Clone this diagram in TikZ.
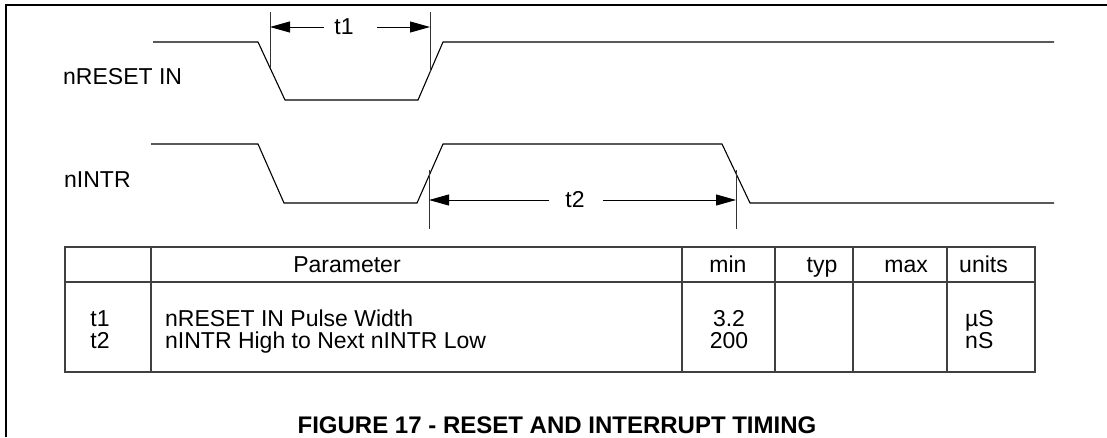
\documentclass[tikz,border=0pt]{standalone}
\usepackage{fontspec}
\setmainfont{Liberation Sans}
\usetikzlibrary{arrows.meta}
\begin{document}
\begin{tikzpicture}[x=1pt,y=-1pt,
  sig/.style={line width=1.1pt, line join=miter},
  dim/.style={line width=0.8pt, draw=black!80},
  dimarrow/.style={line width=0.9pt, -{Triangle[length=20pt,width=11pt]}},
  frame/.style={line width=2.6pt},
  tab/.style={line width=1.1pt, draw=black!75},
  lbl/.style={font=\fontsize{23pt}{25pt}\selectfont, inner sep=0pt},
  ttl/.style={font=\fontsize{24pt}{26pt}\selectfont\bfseries, inner sep=0pt}]
\useasboundingbox (0,0) rectangle (1107,437);
% frame
\draw[frame] (6,437) -- (6,5) -- (1107,5);
% waveforms
\draw[sig] (153,42) -- (258,42) -- (285,100) -- (418,100) -- (443,42) -- (1054,42);
\draw[sig] (151,144) -- (258,144) -- (284,203) -- (417,203) -- (443,144) -- (722,144) -- (750,203) -- (1054,203);
% signal labels
\node[lbl, anchor=west] (lreset) at (63,77) {nRESET IN};
\node[lbl, anchor=west] (lintr) at (64,180) {nINTR};
% t1 dimension
\draw[dim] (270,12) -- (270,68);
\draw[dim] (430,12) -- (430,72);
\coordinate (t1a) at (270,27);
\coordinate (t1b) at (430,27);
\coordinate (t1l) at (324,27);
\coordinate (t1r) at (377,27);
\node[lbl] (t1) at (344,27) {t1};
\draw[dimarrow] (t1l) -- (t1a);
\draw[dimarrow] (t1r) -- (t1b);
% t2 dimension
\draw[dim] (429,170) -- (429,229);
\draw[dim] (736,170) -- (736,229);
\coordinate (t2a) at (429,200);
\coordinate (t2b) at (736,200);
\coordinate (t2l) at (549,200);
\coordinate (t2r) at (603,200);
\node[lbl] (t2) at (575,200) {t2};
\draw[dimarrow] (t2l) -- (t2a);
\draw[dimarrow] (t2r) -- (t2b);
% table
\draw[tab] (65,247) rectangle (1035,372);
\draw[tab] (65,282) -- (1035,282);
\foreach \cx in {151,682,775,853,947} {\draw[tab] (\cx,247) -- (\cx,372);}
\node[lbl, anchor=base] (hpar) at (347,272) {Parameter};
\node[lbl, anchor=base] (hmin) at (728,272) {min};
\node[lbl, anchor=base] (htyp) at (822,272) {typ};
\node[lbl, anchor=base east] (hmax) at (928,272) {max};
\node[lbl, anchor=base west] (hunits) at (959,272) {units};
\node[lbl, anchor=base] (r1) at (100,326) {t1};
\node[lbl, anchor=base west] (p1) at (165,326) {nRESET IN Pulse Width};
\node[lbl, anchor=base] (m1) at (729,326) {3.2};
\node[lbl, anchor=base west] (u1) at (965,326) {µS};
\node[lbl, anchor=base] (r2) at (100,348) {t2};
\node[lbl, anchor=base west] (p2) at (165,348) {nINTR High to Next nINTR Low};
\node[lbl, anchor=base] (m2) at (729,348) {200};
\node[lbl, anchor=base west] (u2) at (965,348) {nS};
% title
\node[ttl, anchor=base] (title) at (557,433) {FIGURE 17 - RESET AND INTERRUPT TIMING};
\end{tikzpicture}
\end{document}
